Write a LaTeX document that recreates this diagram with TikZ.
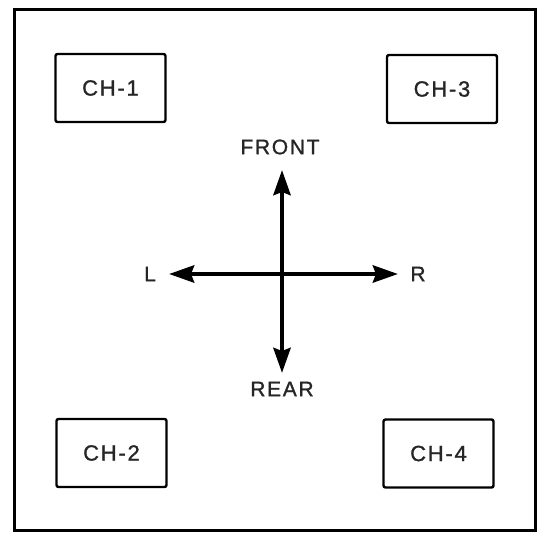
\documentclass[tikz,border=0pt]{standalone}
\usepackage{fontspec}
\setmainfont{Liberation Sans}[FakeBold=1.2, LetterSpace=8]
\usetikzlibrary{arrows.meta}

\tikzset{
  chbox/.style={draw, line width=2.4pt, rounded corners=2pt, minimum width=110pt,
    minimum height=68pt, inner sep=0pt, font=\fontsize{22}{26}\selectfont, text=black!85},
  dirlabel/.style={inner sep=0pt, font=\fontsize{21}{24}\selectfont, text=black!85},
  dirarrow/.style={line width=4.5pt, {Stealth[length=25pt,width=17pt,inset=3pt]}-{Stealth[length=25pt,width=17pt,inset=3pt]}}
}

\begin{document}
\begin{tikzpicture}[x=1pt, y=-1pt] % pixel-like units, y going down

    % Fix the size of the page
    \useasboundingbox (0, 0) rectangle (537, 532);

    % Outer frame
    \draw[line width=3pt] (14, 10) rectangle (535, 530);

    % Channel boxes in the corners
    \node[chbox] (ch1) at (110.5, 88) {CH-1};
    \node[chbox] (ch3) at (442, 89) {CH-3};
    \node[chbox] (ch2) at (111.5, 453) {CH-2};
    \node[chbox] (ch4) at (438.5, 453.5) {CH-4};

    % Direction labels
    \node[dirlabel] (front) at (280, 147) {FRONT};
    \node[dirlabel] (rear) at (282, 389) {REAR};
    \node[dirlabel] (left) at (150, 274) {L};
    \node[dirlabel] (right) at (418, 274) {R};

    % Arrow ends
    \coordinate (tipf) at (282, 170);
    \coordinate (tipr) at (282, 373);
    \coordinate (tipl) at (169, 274);
    \coordinate (tipr2) at (398, 274);

    % Cross of arrows
    \draw[dirarrow] (tipl) -- (tipr2); % Left to right
    \draw[dirarrow] (tipf) -- (tipr); % Front to rear

\end{tikzpicture}
\end{document}
